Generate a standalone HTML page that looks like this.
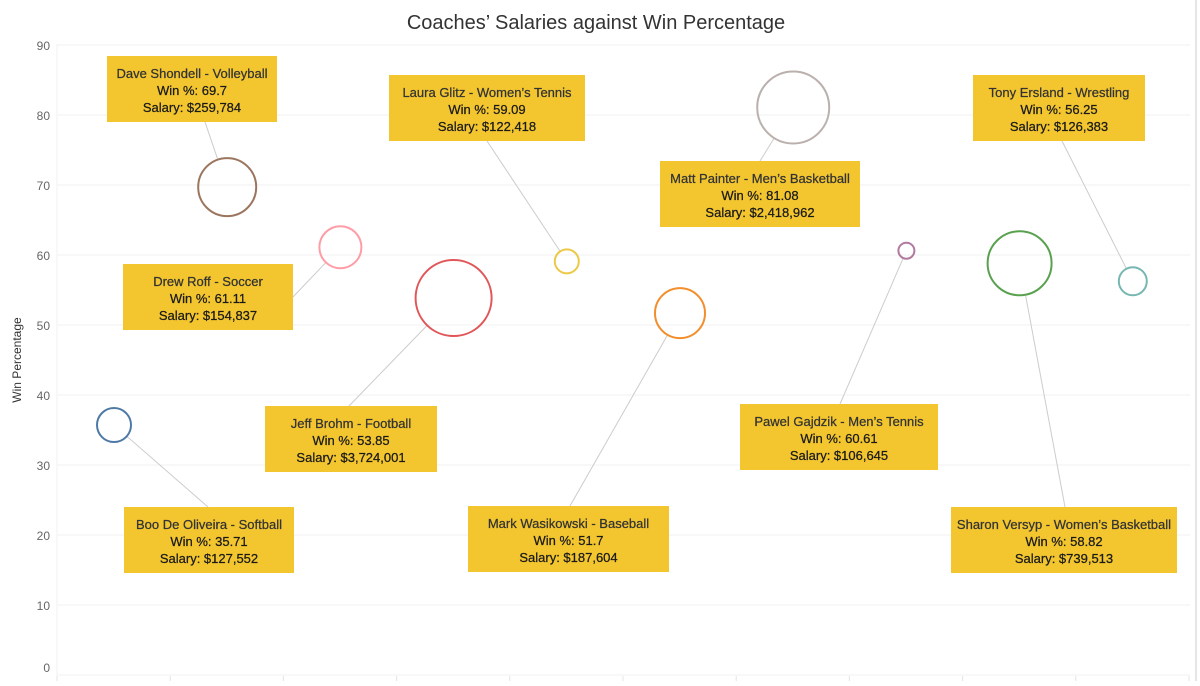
<!DOCTYPE html>
<html><head><meta charset="utf-8"><style>
body{margin:0;background:#fff;width:1200px;height:681px;overflow:hidden;font-family:"Liberation Sans",sans-serif}
svg text{font-family:"Liberation Sans",sans-serif}
</style></head><body>
<svg id="c" width="1200" height="681">
<text x="596" y="29" text-anchor="middle" font-size="20" fill="#333">Coaches’ Salaries against Win Percentage</text>
<text transform="translate(21,360) rotate(-90)" text-anchor="middle" font-size="12" fill="#333">Win Percentage</text>
<line x1="1196" y1="0" x2="1196" y2="681" stroke="#ccc"/>
<g id="grid"></g><g id="marks"></g>
</svg>
<script>
const names=["Boo De Oliveira - Softball","Dave Shondell - Volleyball","Drew Roff - Soccer","Jeff Brohm - Football","Laura Glitz - Women’s Tennis","Mark Wasikowski - Baseball","Matt Painter - Men’s Basketball","Pawel Gajdzik - Men’s Tennis","Sharon Versyp - Women’s Basketball","Tony Ersland - Wrestling"];
const winPct=[35.71,69.7,61.11,53.85,59.09,51.7,81.08,60.61,58.82,56.25];
const salaries=["$127,552","$259,784","$154,837","$3,724,001","$122,418","$187,604","$2,418,962","$106,645","$739,513","$126,383"];
const sizeVal=[17,29,21,38,12,25,36,8,32,14];
const colors=["#4e79a7","#9c755f","#ff9da7","#e15759","#edc948","#f28e2b","#bab0ac","#b07aa1","#59a14f","#76b7b2"];
const yTicks=[0,10,20,30,40,50,60,70,80,90];
// label boxes (layout, not data): x,y,w
const boxes=[[124,507,170],[107,56,170],[123,264,170],[265,406,172],[389,75,196],[468,506,201],[660,161,200],[740,404,198],[951,507,226],[973,75,172]];
const anchors=[[208,507],[205,122],[293,297],[349,406],[487,141],[570,506],[760,161],[840,404],[1065,507],[1062,141]];
const y=v=>675-v*7, x=i=>114+i*113.2;
const NS="http://www.w3.org/2000/svg";
function mk(t,a,p){const e=document.createElementNS(NS,t);for(const k in a)e.setAttribute(k,a[k]);p.appendChild(e);return e;}
const g=document.getElementById('grid'),m=document.getElementById('marks');
yTicks.forEach(v=>{
 const l=mk('line',{x1:57,x2:1190,y1:y(v),y2:y(v),stroke:'#f2f2f2'},g);
 
 
 const t=mk('text',{x:50,y:Math.min(y(v)+5,672),'text-anchor':'end','font-size':12,fill:'#666'},g);t.textContent=v;
 
 
});
for(let i=0;i<11;i++){const l=mk('line',{x1:57+i*113.2,x2:57+i*113.2,y1:676,y2:681,stroke:'#e4e4e4'},g);
 
 }
mk('line',{x1:57,x2:57,y1:44,y2:676,stroke:'#f2f2f2'},g);
names.forEach((n,i)=>{
 const cx=x(i),cy=y(winPct[i]),r=sizeVal[i];
 const b=boxes[i],a=anchors[i];
 const dx=a[0]-cx,dy=a[1]-cy,d=Math.hypot(dx,dy);
 const ln=mk('line',{x1:cx+dx/d*r,y1:cy+dy/d*r,x2:a[0],y2:a[1],stroke:'#ccc'},m);
 
 
 const c=mk('circle',{cx:cx,cy:cy,r:r,fill:'none',stroke:colors[i],'stroke-width':2},m);
 
 
 const bg=mk('g',{},m);
 
 
 mk('rect',{x:b[0],y:b[1],width:b[2],height:66,fill:'#f3c62f'},bg);
 const cxm=b[0]+b[2]/2;
 [n,'Win %: '+winPct[i],'Salary: '+salaries[i]].forEach((s,k)=>{
  const t=mk('text',{x:cxm,y:b[1]+22+k*17,'text-anchor':'middle','font-size':13,fill:k?'#1a1a1a':'#333','stroke':k?'#1a1a1a':'#333','stroke-width':0.25},bg);t.textContent=s;
 });
});
</script>
</body></html>
